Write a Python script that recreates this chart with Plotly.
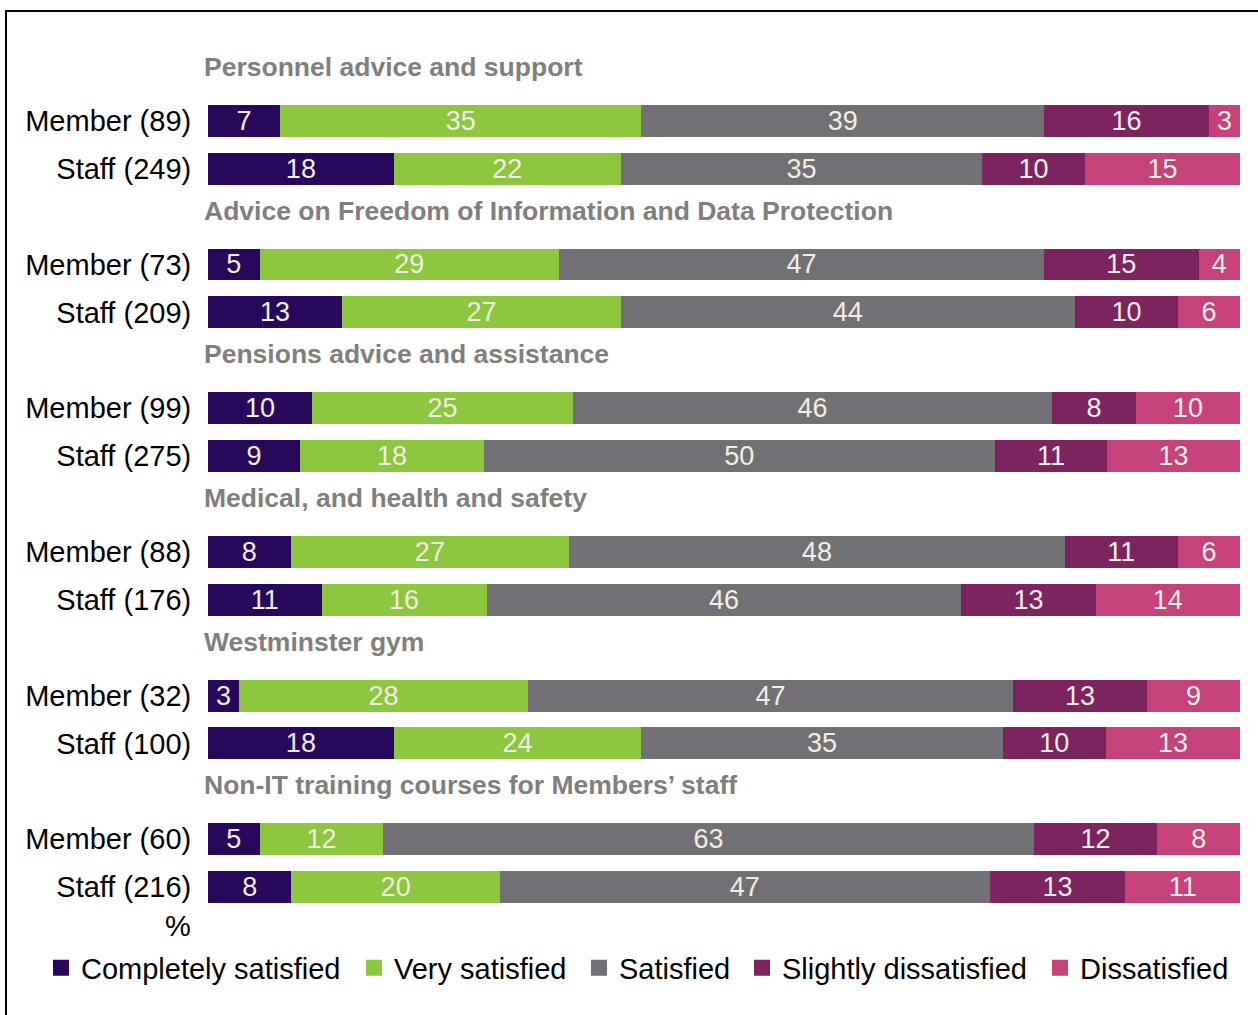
import plotly.graph_objects as go

groups = [
    "Personnel advice and support",
    "Advice on Freedom of Information and Data Protection",
    "Pensions advice and assistance",
    "Medical, and health and safety",
    "Westminster gym",
    "Non-IT training courses for Members\u2019 staff",
]
row_labels = [
    "Member (89)", "Staff (249)",
    "Member (73)", "Staff (209)",
    "Member (99)", "Staff (275)",
    "Member (88)", "Staff (176)",
    "Member (32)", "Staff (100)",
    "Member (60)", "Staff (216)",
]
series_names = ["Completely satisfied", "Very satisfied", "Satisfied",
                "Slightly dissatisfied", "Dissatisfied"]
completely = [7, 18, 5, 13, 10, 9, 8, 11, 3, 18, 5, 8]
very = [35, 22, 29, 27, 25, 18, 27, 16, 28, 24, 12, 20]
satisfied = [39, 35, 47, 44, 46, 50, 48, 46, 47, 35, 63, 47]
slightly = [16, 10, 15, 10, 8, 11, 11, 13, 13, 10, 12, 13]
dissatisfied = [3, 15, 4, 6, 10, 13, 6, 14, 9, 13, 8, 11]

colors = ["#27085A", "#8DC63F", "#717075", "#7B2460", "#C6427A"]
series = [completely, very, satisfied, slightly, dissatisfied]

FONT = "Liberation Sans, Arial, sans-serif"

# positions: member row = g*3, staff row = g*3+1
ypos = []
for g in range(len(groups)):
    ypos += [g * 3, g * 3 + 1]

W, H = 1258, 1015
ml, mr, mt, mb = 208, 18, 25, 80
pw, ph = W - ml - mr, H - mt - mb

def px_x(px):
    return (px - ml) / pw

def px_y(py):
    return (H - mb - py) / ph

fig = go.Figure()
for name, vals, col in zip(series_names, series, colors):
    fig.add_trace(go.Bar(
        name=name, x=vals, y=ypos, orientation="h", width=0.667,
        marker=dict(color=col, line=dict(width=0)),
        text=[str(v) for v in vals], textposition="inside",
        insidetextanchor="middle", textangle=0, constraintext="none",
        textfont=dict(family=FONT, size=27, color="#F2EEE2"),
        hoverinfo="skip", showlegend=False,
    ))

# legend entries (one legend per entry so spacing matches the reference)
legend_text_starts = [82, 395, 620, 783, 1081]
legend_layout = {}
for i, (name, col) in enumerate(zip(series_names, colors)):
    lname = "legend" if i == 0 else f"legend{i + 1}"
    fig.add_trace(go.Scatter(
        name=name, x=[None], y=[None], mode="markers",
        marker=dict(symbol="square", size=16, color=col),
        legend=lname, showlegend=True, hoverinfo="skip",
    ))
    legend_layout[lname] = dict(
        orientation="h", x=px_x(legend_text_starts[i] - 41), xanchor="left",
        y=px_y(968), yanchor="middle", bgcolor="rgba(0,0,0,0)",
        itemsizing="trace",
        font=dict(family=FONT, size=29, color="#000000"),
    )

annotations = []
for g, title in enumerate(groups):
    annotations.append(dict(
        text=title, xref="paper", x=px_x(202), xanchor="left",
        yref="y", y=g * 3 - 1.125, yanchor="middle", showarrow=False,
        font=dict(family=FONT, size=26.5, color="#7F7F7F", weight="bold"),
    ))
annotations.append(dict(
    text="%", xref="paper", x=px_x(178), xanchor="center",
    yref="y", y=16.82, yanchor="middle", showarrow=False,
    font=dict(family=FONT, size=29, color="#000000"),
))

fig.update_layout(
    width=W, height=H,
    margin=dict(l=ml, r=mr, t=mt, b=mb),
    barmode="stack", barnorm="percent",
    plot_bgcolor="white", paper_bgcolor="white",
    xaxis=dict(range=[0, 100], visible=False, fixedrange=True),
    yaxis=dict(range=[17, -2], tickvals=ypos, ticktext=row_labels,
               showgrid=False, zeroline=False, showline=False,
               ticks="outside", ticklen=10, tickcolor="rgba(0,0,0,0)",
               tickfont=dict(family=FONT, size=29, color="#000000")),
    annotations=annotations,
    shapes=[dict(type="rect", xref="paper", yref="paper",
                 x0=px_x(6), x1=px_x(1265), y0=px_y(11), y1=px_y(1025),
                 line=dict(color="black", width=2), fillcolor="rgba(0,0,0,0)")],
    **legend_layout,
)

fig.write_html("out.html", config={"displayModeBar": False},
               post_script="document.body.style.margin='0';document.body.style.padding='0';document.body.style.overflow='hidden';")
